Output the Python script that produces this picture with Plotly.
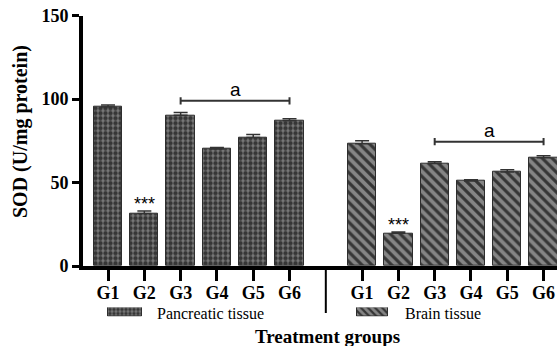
import plotly.graph_objects as go

# SOD activity per treatment group, two tissues
groups = ["G1", "G2", "G3", "G4", "G5", "G6"]
pancreatic = [95.3, 31.5, 90.3, 70.1, 77.0, 87.1]
pancreatic_err = [1.2, 1.5, 1.7, 0.9, 1.8, 1.2]
brain = [73.3, 19.6, 61.5, 50.9, 56.3, 64.9]
brain_err = [1.8, 0.8, 1.0, 0.8, 1.4, 1.2]
y_ticks = [0, 50, 100, 150]

W, H = 557, 346
SERIF = "Liberation Serif, Times New Roman, serif"
SANS = "Liberation Sans, Arial, sans-serif"


def px_x(p):
    return p / W


def px_y(p):
    return 1 - p / H


# category slots: pancreatic 0..5, gap at 6, brain 7..12
pan_x = list(range(len(groups)))
gap_x = len(groups)
brain_x = [gap_x + 1 + i for i in range(len(groups))]

BAR_EDGE = "#2e2e2e"
PAN_BG, BRAIN_BG, HATCH = "#7a7a7a", "#858585", "#363636"
PAN_PATTERN = dict(shape=".", bgcolor=PAN_BG, fgcolor=HATCH, fgopacity=1, size=5, solidity=0.6)
BRAIN_PATTERN = dict(shape="\\", bgcolor=BRAIN_BG, fgcolor=HATCH, fgopacity=1, size=7, solidity=0.45)

fig = go.Figure()

fig.add_trace(go.Bar(
    x=pan_x, y=pancreatic, width=0.78,
    marker=dict(color=PAN_BG, line=dict(color=BAR_EDGE, width=1), pattern=PAN_PATTERN),
    error_y=dict(type="data", array=pancreatic_err, arrayminus=[0] * 6,
                 symmetric=False, color="#333333", thickness=1.5, width=7),
    showlegend=False,
))
fig.add_trace(go.Bar(
    x=brain_x, y=brain, width=0.78,
    marker=dict(color=BRAIN_BG, line=dict(color=BAR_EDGE, width=1), pattern=BRAIN_PATTERN),
    error_y=dict(type="data", array=brain_err, arrayminus=[0] * 6,
                 symmetric=False, color="#333333", thickness=1.5, width=7),
    showlegend=False,
))

# legend swatches drawn on a small helper axis in the bottom band
fig.add_trace(go.Bar(
    x=[34], base=[108], y=[0.5], orientation="h", width=0.9,
    marker=dict(color=PAN_BG, line=dict(color=BAR_EDGE, width=1),
                pattern=dict(PAN_PATTERN, size=4)),
    xaxis="x2", yaxis="y2", showlegend=False, hoverinfo="skip",
))
fig.add_trace(go.Bar(
    x=[31], base=[357], y=[0.5], orientation="h", width=0.9,
    marker=dict(color=BRAIN_BG, line=dict(color=BAR_EDGE, width=1),
                pattern=dict(BRAIN_PATTERN, size=5)),
    xaxis="x2", yaxis="y2", showlegend=False, hoverinfo="skip",
))

y_bottom = px_y(266)
y_top = px_y(15.7)

fig.update_layout(
    template="none",
    width=W, height=H,
    margin=dict(l=0, r=0, t=0, b=0, autoexpand=False),
    plot_bgcolor="white", paper_bgcolor="white",
    bargap=0, barmode="overlay",
    xaxis=dict(
        domain=[px_x(83), 1], range=[-0.69, 12.37],
        tickvals=pan_x + brain_x, ticktext=groups + groups,
        ticks="outside", ticklen=11, tickwidth=3, tickcolor="black",
        showline=True, linewidth=4, linecolor="black",
        showgrid=False, zeroline=False, automargin=False,
        ticklabelstandoff=-4,
        tickfont=dict(family=SERIF, size=18, color="black", weight="bold"),
    ),
    yaxis=dict(
        domain=[y_bottom, y_top], range=[0, 150],
        tickvals=y_ticks,
        ticks="outside", ticklen=7, tickwidth=3, tickcolor="black",
        showline=True, linewidth=4, linecolor="black",
        showgrid=False, zeroline=False, automargin=False,
        tickfont=dict(family=SERIF, size=18, color="black", weight="bold"),
    ),
    xaxis2=dict(domain=[0, 1], range=[0, W], visible=False, anchor="y2", automargin=False),
    yaxis2=dict(domain=[px_y(316.5), px_y(307.5)], range=[0, 1], visible=False,
                anchor="x2", automargin=False),
)

line_col = "#333333"
shapes = []
# separator between the two tissue blocks
shapes.append(dict(type="line", xref="x", yref="paper", x0=gap_x, x1=gap_x,
                   y0=y_bottom, y1=px_y(313), line=dict(color="black", width=2)))


def bracket(x0, x1, y, cap):
    out = [dict(type="line", xref="x", yref="y", x0=x0, x1=x1, y0=y, y1=y,
                line=dict(color=line_col, width=2))]
    for xx in (x0, x1):
        out.append(dict(type="line", xref="x", yref="y", x0=xx, x1=xx,
                        y0=y - cap, y1=y + cap, line=dict(color=line_col, width=2)))
    return out


shapes += bracket(pan_x[2], pan_x[5], 99, 2.2)
shapes += bracket(brain_x[2], brain_x[5], 74.5, 2.2)
fig.update_layout(shapes=shapes)

ann = []
ann.append(dict(xref="x", yref="y", x=(pan_x[2] + pan_x[5]) / 2, y=99, text="a",
                showarrow=False, yanchor="bottom", yshift=-1,
                font=dict(family=SANS, size=19, color="black")))
ann.append(dict(xref="x", yref="y", x=(brain_x[2] + brain_x[5]) / 2, y=74.5, text="a",
                showarrow=False, yanchor="bottom", yshift=-1,
                font=dict(family=SANS, size=19, color="black")))
ann.append(dict(xref="x", yref="y", x=pan_x[1], y=pancreatic[1] + pancreatic_err[1],
                text="***", showarrow=False, yanchor="bottom", yshift=-5,
                font=dict(family=SANS, size=18, color="black")))
ann.append(dict(xref="x", yref="y", x=brain_x[1], y=brain[1] + brain_err[1],
                text="***", showarrow=False, yanchor="bottom", yshift=-5,
                font=dict(family=SANS, size=18, color="black")))
# legend labels
ann.append(dict(xref="paper", yref="paper", x=px_x(155), y=px_y(313), text="Pancreatic tissue",
                showarrow=False, xanchor="left", yanchor="middle",
                font=dict(family=SERIF, size=16, color="black")))
ann.append(dict(xref="paper", yref="paper", x=px_x(403), y=px_y(313), text="Brain tissue",
                showarrow=False, xanchor="left", yanchor="middle",
                font=dict(family=SERIF, size=16, color="black")))
# axis titles
ann.append(dict(xref="paper", yref="paper", x=px_x(327), y=px_y(336), text="Treatment groups",
                showarrow=False, xanchor="center", yanchor="middle",
                font=dict(family=SERIF, size=19, color="black", weight="bold")))
ann.append(dict(xref="paper", yref="paper", x=px_x(21), y=px_y(132), text="SOD (U/mg protein)",
                showarrow=False, xanchor="center", yanchor="middle", textangle=-90,
                font=dict(family=SERIF, size=20, color="black", weight="bold")))
fig.update_layout(annotations=ann)

fig.write_html("out.html")
